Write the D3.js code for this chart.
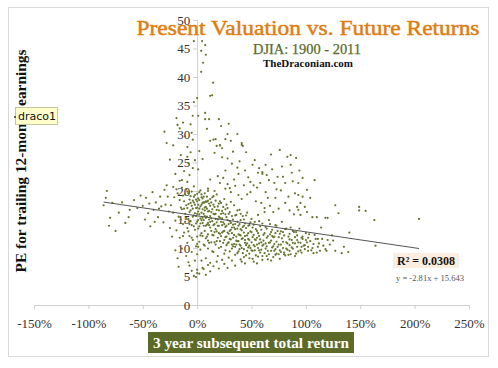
<!DOCTYPE html>
<html><head><meta charset="utf-8">
<script src="https://cdn.jsdelivr.net/npm/d3@7"></script>
<style>body{margin:0;background:#fff;}svg{display:block;}</style>
</head><body>
<svg id="c" width="498" height="368"></svg>
<script>
const xTicks = [-150,-100,-50,0,50,100,150,200,250];
const yTicks = [0,5,10,15,20,25,30,35,40,45,50];
const trend = {slope:-2.81, intercept:15.643, r2:"0.0308", from:-86, to:204};

const leftTail = [[-86,17.5],[-83,20.0],[-84,18.8],[-80,15.3],[-81,13.9],[-75,13.0],[-78,17.9],[-72,16.2],[-69,18.0],[-66,14.4],[-63,15.4],[-62,16.7],[-58,18.4],[-55,17.0],[-52,19.2],[-50,17.4],[-48,15.0],[-47,18.8],[-45,16.1],[-43,13.8],[-41,19.8],[-40,16.7],[-38,18.0],[-36,15.4],[-34,19.0],[-33,17.3],[-31,14.5],[-30,20.2],[-28,21.0],[-27,19.0],[-26,16.4],[-25,13.5],[-23,12.0],[-22,20.7],[-20,9.6],[-18,8.2],[-17,6.7],[-16,21.8],[-14,21.9],[-9,21.6],[-29,17.6],[-35,16.9],[-44,17.8],[-39,14.6],[-19,20.3]];
const upperLeft = [[-30,30.4],[-28,28.4],[-22,28.0],[-19,32.8],[-18,31.6],[-16,31.0],[-13,32.0],[-9,27.7],[-6,26.8],[-6,31.7],[-5,30.2],[-4,29.0],[-9,26.0],[-2,25.4],[-4,24.0],[-25,25.5],[-12,23.5],[-7,22.8],[-20,23.0],[-3,35.6],[-4,33.2],[-15,26.3],[-11,29.6],[-8,24.9]];
const topColumn = [[-3,46.3],[4.6,46.3],[7.4,45.6],[3.7,44.6],[8,43.9],[5.5,42.5],[3.7,40.9],[14.7,39.0],[13.8,36.8],[12,36.7],[0,36.3],[7.4,33.7],[1,33.2],[11,32.6],[7.4,32.6],[20,32.6],[22,31.4],[29,31.8],[9,30.9],[37,30.0],[28,30.0],[12,28.8],[15,29.0],[17,29.1],[26,29.1],[31,28.8],[41,28.4],[42,27.9],[18,27.9],[21,28.0],[23,27.5],[2,27.0],[5,25.6],[1,23.8]];
const upperMiddle = [[21,28],[41,28.1],[83,26],[63,24.6],[56,23.2],[60,23],[64,22.8],[74,22.5],[79,22.5],[86,24.6],[51,24.6],[49,21.6],[58,21.4],[71,21.4],[81,21.4],[87,23.2],[90,19.6],[92,17.2],[81,17.9],[72,18.8],[65,18.8],[63,19.8],[49,19.8],[38,19.3],[16,26.7],[23,25.9],[28,25.7],[32,24.8],[37,24.1],[38,23.0],[19,22.6],[24,22.3],[21,21.4],[28,21.2],[30,20.5],[16,20.0],[10,18.3],[7,18.0],[5,18.7],[10,20.0],[53,25.4],[60,23.3],[76,27.2],[86,26.3],[91,25.8],[68,26.4],[45,26.8],[34,22.0],[43,21.0],[55,20.6],[77,20.1],[84,19.0],[12,22.0],[26,23.6],[44,23.6],[97,22.3],[33,26.9],[39,25.2],[47,22.4],[52,21.0],[57,24.0],[66,21.9],[69,23.8],[73,20.3],[78,24.3],[88,21.7],[94,23.6],[35,20.9],[41,18.6],[46,19.4],[54,18.2],[59,17.9],[67,17.4],[75,16.9],[85,16.6],[89,15.9],[62,17.0],[70,16.3],[26,20.4],[31,18.1]];
const rightSide = [[93,21.4],[101,20.2],[108,21.9],[93,19.3],[97,19.0],[104,18.8],[95,17.9],[99,17.2],[93,16.7],[101,16.3],[95,15.8],[106,15.4],[110,15.4],[118,15.3],[120,15.3],[130,16.1],[127,17.5],[149,17.2],[149,16.6],[155,16.5],[163,14.9],[204,15.1],[97,11.6],[102,11.8],[99,10.5],[102,10.2],[107,9.1],[111,11.6],[111,10.2],[119,9.5],[127,9.5],[133,9.1],[135,10.2],[139,9.3],[164,10.4],[92,10.2],[124,12.2],[114,13.6],[140,12.7]];
const coreA = [[-24,17.5],[-22,16.2],[-21,18.9],[-20,14.8],[-19,13.1],[-18,19.6],[-17,15.5],[-16,11.8],[-15,17.1],[-14,9.9],[-13,14.2],[-12,18.2],[-12,12.7],[-11,16.0],[-10,8.6],[-10,20.3],[-9,13.5],[-9,10.9],[-8,17.7],[-8,15.1],[-7,6.9],[-7,12.1],[-6,19.1],[-6,16.6],[-5,14.0],[-5,9.3],[-4,18.3],[-4,11.4],[-3,15.7],[-3,20.8],[-2,13.2],[-2,7.8],[-1,17.0],[-1,10.3],[0,19.5],[0,14.6],[0,12.0],[0,8.9],[0,5.6],[1,16.4],[1,18.7],[2,11.1],[2,13.8],[3,15.2],[3,20.1],[3,9.7],[4,17.6],[4,12.6],[5,14.4],[5,6.5],[6,19.0],[6,16.0],[6,10.6],[7,13.0],[7,15.6],[8,18.2],[8,11.7],[8,8.2],[9,14.1],[9,16.9],[10,12.4],[10,20.4],[10,9.9],[11,15.0],[11,17.8],[12,13.6],[12,7.4],[13,11.0],[13,16.3],[14,18.9],[14,14.7],[15,12.2],[15,9.3],[16,15.9],[16,17.2],[17,13.3],[17,10.6],[18,14.5],[18,19.4],[19,11.8],[19,8.6],[20,16.6],[20,13.9],[21,12.5],[21,15.3],[22,10.2],[22,17.9],[23,14.0],[23,7.9],[24,12.9],[24,16.1],[25,11.4],[25,18.6],[26,13.7],[26,9.6],[27,15.4],[27,12.0],[28,10.8],[28,17.0],[29,14.2],[29,8.3],[30,13.0],[30,16.3],[31,11.5],[31,19.8],[32,12.6],[32,9.9],[33,15.0],[33,14.1],[34,10.7],[34,17.5],[35,13.3],[35,8.8],[36,12.0],[36,15.8],[37,11.2],[37,14.6],[38,9.4],[38,13.9],[39,16.7],[39,12.3],[40,10.4],[40,14.9],[41,7.6],[41,13.1],[42,11.7],[42,15.6],[43,9.8],[43,12.7],[44,14.3],[44,10.9],[45,8.7],[45,13.5],[46,12.2],[46,16.2],[47,10.1],[47,11.6],[48,14.0],[48,9.0],[49,12.9],[50,11.0],[50,15.1],[51,8.1],[51,13.6],[52,10.5],[52,12.3],[53,14.6],[53,9.6],[54,11.4],[55,13.0],[55,7.3],[56,10.0],[56,15.8],[57,12.1],[58,9.2],[58,13.8],[59,11.0],[60,14.3],[60,8.6],[61,10.6],[62,12.6],[62,16.3],[63,9.9],[64,11.8],[64,13.4],[65,8.0],[66,10.9],[66,14.9],[67,12.4],[68,9.5],[68,11.3],[69,13.2],[70,10.3],[70,8.4],[71,12.0],[72,14.0],[72,9.8],[73,11.1],[74,13.0],[75,8.9],[75,10.6],[76,12.5],[77,9.3],[78,11.7],[78,14.6],[79,10.0],[80,12.2],[81,8.7],[82,11.0],[82,13.4],[83,9.7],[84,12.0],[85,10.5],[86,13.6],[86,8.9],[87,11.4],[88,9.9],[89,12.8],[90,10.8],[91,9.0],[92,12.2],[93,11.0],[94,13.4],[95,9.6],[96,11.8],[98,10.4],[100,12.6],[102,9.5],[104,11.2],[106,10.0],[108,12.3],[110,9.2],[112,10.8],[115,11.6],[118,9.8],[122,10.6],[125,11.3]];
const coreB = [[-14,16.8],[-13,19.2],[-11,14.6],[-10,17.5],[-9,19.9],[-8,12.9],[-7,18.5],[-6,14.7],[-5,17.4],[-4,15.5],[-3,18.0],[-2,16.1],[-2,19.3],[-1,14.3],[0,17.1],[0,16.0],[1,13.4],[1,10.2],[2,19.8],[2,15.9],[3,17.3],[4,14.9],[4,19.4],[5,16.8],[5,12.1],[6,18.0],[6,13.9],[7,17.1],[7,10.4],[8,15.3],[9,19.0],[9,12.0],[10,16.4],[11,14.0],[11,10.9],[12,18.6],[12,15.6],[13,13.0],[14,16.8],[14,9.4],[15,19.1],[15,14.0],[16,12.8],[17,16.0],[17,18.3],[18,11.2],[19,15.0],[19,17.3],[20,10.0],[20,12.6],[21,18.2],[22,14.6],[22,12.1],[23,16.5],[24,10.9],[24,14.5],[25,13.0],[25,9.0],[26,15.9],[27,10.5],[27,17.6],[28,12.7],[29,16.0],[29,11.0],[30,9.4],[30,14.7],[31,13.2],[32,15.6],[32,10.6],[33,11.8],[34,13.6],[35,15.7],[35,10.2],[36,11.3],[37,16.6],[37,9.1],[38,12.4],[39,10.6],[39,14.2],[40,12.2],[40,16.0],[41,10.0],[42,13.7],[43,15.0],[43,8.4],[44,12.1],[45,10.5],[45,15.7],[46,9.5],[47,13.9],[48,11.4],[49,10.0],[49,14.5],[50,12.8],[51,9.5],[52,14.1],[53,11.5],[54,8.7],[54,13.3],[55,10.6],[56,12.6],[57,9.6],[57,14.7],[58,11.5],[59,13.2],[60,10.4],[61,12.3],[62,9.1],[63,13.7],[64,10.3],[65,12.1],[66,8.9],[67,14.2],[68,12.8],[69,10.1],[70,11.9],[71,9.5],[72,12.6],[73,13.9],[74,10.2],[76,9.6],[77,12.9],[79,11.1],[80,9.2],[81,13.3],[83,10.8],[84,8.8],[85,12.5],[87,10.1],[88,13.0],[90,11.9],[91,12.8],[93,9.4],[95,10.9],[97,12.0],[99,9.8],[101,11.0],[103,12.4],[105,9.6],[107,10.7],[109,11.6],[113,9.5],[116,10.4],[120,11.4]];
const coreC = [[-16,18.4],[-15,15.0],[-14,20.6],[-13,12.1],[-12,16.9],[-11,19.4],[-10,15.3],[-9,17.0],[-8,19.6],[-7,16.3],[-7,14.2],[-6,17.9],[-5,19.9],[-5,11.8],[-4,16.9],[-3,13.8],[-3,19.0],[-2,17.6],[-1,18.5],[-1,15.6],[0,18.2],[0,10.7],[1,17.6],[1,14.9],[2,16.9],[2,18.4],[3,14.3],[3,12.2],[4,16.2],[4,18.9],[5,15.3],[5,17.9],[6,14.9],[7,19.6],[7,16.6],[8,13.9],[8,17.2],[9,15.5],[9,18.1],[10,14.4],[10,11.3],[11,16.5],[12,14.6],[12,17.4],[13,15.2],[13,18.0],[14,12.3],[15,16.0],[15,17.6],[16,14.2],[16,11.0],[17,15.1],[18,16.7],[18,12.9],[19,13.9],[20,15.5],[20,17.8],[21,11.2],[22,16.0],[23,12.7],[23,15.2],[24,17.2],[25,14.2],[26,11.9],[26,16.8],[27,13.9],[28,14.9],[29,12.5],[30,11.6],[31,14.4],[32,13.6],[33,10.3],[34,12.3],[35,14.2],[36,10.6],[37,13.4],[38,11.2],[39,9.8],[40,13.3],[41,11.6],[42,9.1],[43,13.9],[44,11.4],[46,10.8],[47,12.6],[48,10.4],[50,9.6],[51,11.9],[53,10.3],[55,11.8],[57,10.8],[59,9.7],[61,11.3],[63,10.8],[65,9.5],[67,11.0],[69,12.1],[71,10.7],[73,9.0],[75,11.9],[77,10.6],[79,12.8],[82,9.9],[85,11.5],[88,10.9],[92,11.4],[96,10.2],[100,11.4]];
const lowerEdge = [[-8,7.5],[-5,6.0],[-3,5.1],[0,6.2],[2,5.5],[4,7.8],[6,6.3],[10,7.0],[12,5.9],[15,6.8],[18,7.6],[20,6.4],[25,7.2],[28,6.5],[32,7.8],[35,6.9],[40,8.0],[44,7.3],[48,8.2],[52,7.6],[56,8.5],[60,7.9],[64,8.6],[68,7.8],[72,8.8],[76,8.1],[80,8.9],[85,9.5],[90,8.6],[96,9.2],[-1,4.9],[8,5.3]];

const points = [].concat(leftTail, upperLeft, topColumn, upperMiddle, rightSide, coreA, coreB, coreC, lowerEdge);

const svg = d3.select("#c");
const serif = "'Liberation Serif', 'DejaVu Serif', serif";

// outer frame
svg.append("rect").attr("x",8.5).attr("y",7.5).attr("width",480).attr("height",349)
  .attr("fill","#fff").attr("stroke","#d9d9d9").attr("stroke-width",1);

const x = d3.scaleLinear().domain([-150,250]).range([34,469]);
const y = d3.scaleLinear().domain([0,50]).range([305,20]);

// x axis at y=0
const xAxis = d3.axisBottom(x).tickValues(xTicks).tickSize(4).tickFormat(d=>d+"%");
const gx = svg.append("g").attr("transform",`translate(0,${y(0)})`).call(xAxis);
gx.select(".domain").attr("stroke","#cfcfcf");
gx.selectAll(".tick line").attr("stroke","#cfcfcf");
gx.selectAll(".tick text").attr("font-family",serif).attr("font-size",13).attr("fill","#333").attr("dy","1.25em");

// y axis at x=0
const yAxis = d3.axisLeft(y).tickValues(yTicks).tickSize(4);
const gy = svg.append("g").attr("transform",`translate(${x(0)},0)`).call(yAxis);
gy.select(".domain").attr("stroke","#cfcfcf");
gy.selectAll(".tick line").attr("stroke","#cfcfcf");
gy.selectAll(".tick text").attr("font-family",serif).attr("font-size",13).attr("fill","#333").attr("x",-7);

// points
svg.append("g").selectAll("circle").data(points).join("circle")
  .attr("cx",d=>x(d[0])).attr("cy",d=>y(d[1])).attr("r",1.1).attr("fill","#66752f");

// trendline
const f = v => trend.slope*v/100 + trend.intercept;
svg.append("line").attr("x1",x(trend.from)).attr("y1",y(f(trend.from)))
  .attr("x2",x(trend.to)).attr("y2",y(f(trend.to)))
  .attr("stroke","#555").attr("stroke-width",1);

// titles
svg.append("text").attr("x",308).attr("y",35).attr("text-anchor","middle")
  .attr("font-family",serif).attr("font-size",22).attr("fill","#e07d10")
  .attr("stroke","#e07d10").attr("stroke-width",0.5)
  .attr("textLength",343).attr("lengthAdjust","spacingAndGlyphs")
  .text("Present Valuation vs. Future Returns");
svg.append("text").attr("x",307).attr("y",54).attr("text-anchor","middle")
  .attr("font-family",serif).attr("font-size",14).attr("fill","#5a6a2a")
  .attr("stroke","#5a6a2a").attr("stroke-width",0.25)
  .attr("textLength",108).attr("lengthAdjust","spacingAndGlyphs")
  .text("DJIA: 1900 - 2011");
svg.append("text").attr("x",308).attr("y",67).attr("text-anchor","middle")
  .attr("font-family",serif).attr("font-size",11).attr("font-weight","bold").attr("fill","#111")
  .attr("textLength",90).attr("lengthAdjust","spacingAndGlyphs")
  .text("TheDraconian.com");

// y axis title
svg.append("text").attr("transform","translate(26,161) rotate(-90)").attr("text-anchor","middle")
  .attr("font-family",serif).attr("font-size",14).attr("font-weight","bold").attr("fill","#111")
  .attr("textLength",223).attr("lengthAdjust","spacingAndGlyphs")
  .text("PE for trailing 12-month earnings");

// x axis title box
svg.append("rect").attr("x",148).attr("y",332).attr("width",206).attr("height",21).attr("fill","#5b6b27");
svg.append("text").attr("x",251).attr("y",347.5).attr("text-anchor","middle")
  .attr("font-family",serif).attr("font-size",14).attr("font-weight","bold").attr("fill","#fff")
  .attr("textLength",196).attr("lengthAdjust","spacingAndGlyphs")
  .text("3 year subsequent total return");

// R2 box
svg.append("rect").attr("x",393).attr("y",253).attr("width",66).attr("height",15).attr("fill","#fbeee0");
svg.append("text").attr("x",397).attr("y",265).attr("font-family",serif).attr("font-size",12)
  .attr("font-weight","bold").attr("fill","#111")
  .attr("textLength",58).attr("lengthAdjust","spacingAndGlyphs").text("R² = 0.0308");
svg.append("text").attr("x",396).attr("y",281).attr("font-family",serif).attr("font-size",8.5)
  .attr("fill","#555").attr("textLength",68).attr("lengthAdjust","spacingAndGlyphs")
  .text("y = -2.81x + 15.643");

// tooltip label
svg.append("rect").attr("x",15.5).attr("y",107.5).attr("width",42).attr("height",17)
  .attr("fill","#ffffcc").attr("stroke","#c8c8a0");
svg.append("text").attr("x",18).attr("y",120).attr("font-family","'DejaVu Sans', sans-serif")
  .attr("font-size",11).attr("fill","#111").text("draco1");
svg.append("circle").attr("cx",15).attr("cy",117).attr("r",1).attr("fill","#333");
</script>
</body></html>
